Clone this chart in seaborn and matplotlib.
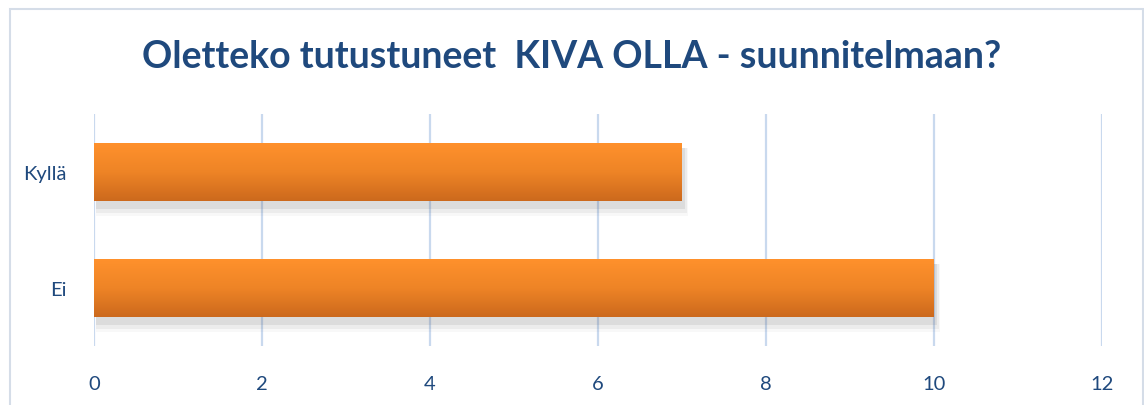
import numpy as np
import pandas as pd
import matplotlib
matplotlib.use("Agg")
import matplotlib.pyplot as plt
from matplotlib.patches import Rectangle
from matplotlib.colors import LinearSegmentedColormap
import seaborn as sns

# data
categories = ["Kyllä", "Ei"]
values = [7, 10]
x_ticks = [0, 2, 4, 6, 8, 10, 12]

df = pd.DataFrame({"vastaus": categories, "lkm": values})

sns.set_style("white")
plt.rcParams["font.family"] = ["Lato", "DejaVu Sans"]

text_col = "#1F497D"
grid_col = "#C9D9EE"

fig = plt.figure(figsize=(11.44, 4.06), dpi=100)
ax = fig.add_axes([94 / 1144, 1 - 347 / 406, 1008 / 1144, 232 / 406])

sns.barplot(data=df, x="lkm", y="vastaus", orient="h", color="#F08423",
            width=0.5, linewidth=0, ax=ax, zorder=3)

ax.set_xlim(0, 12)
ax.set_ylim(1.5, -0.5)
ax.set_xticks(x_ticks)
ax.set_xlabel("")
ax.set_ylabel("")
for s in ax.spines.values():
    s.set_visible(False)
ax.grid(axis="x", color=grid_col, linewidth=1.6, zorder=0)
ax.tick_params(axis="both", length=0, colors=text_col, labelsize=14.5)
ax.tick_params(axis="x", pad=21)
ax.tick_params(axis="y", pad=20)
for lab in ax.get_xticklabels() + ax.get_yticklabels():
    lab.set_color(text_col)

# gradient fill + soft shadow on the bars
cmap = LinearSegmentedColormap.from_list("org", ["#FF912C", "#EE8426", "#CC691D"])
grad = np.linspace(0, 1, 256).reshape(-1, 1)
for p in ax.patches:
    x0, y0 = p.get_x(), p.get_y()
    w, h = p.get_width(), p.get_height()
    for i, a in enumerate([0.10, 0.07, 0.04]):
        d = 0.03 * (i + 1)
        ax.add_patch(Rectangle((x0 + 0.02, y0 + 0.04), w + d * 0.6, h + d,
                               facecolor="#555555", alpha=a, lw=0, zorder=2))
    im = ax.imshow(grad, aspect="auto", cmap=cmap,
                   extent=(x0, x0 + w, y0 + h, y0), zorder=4)
    im.set_clip_path(p)

ax.set_xlim(0, 12)
ax.set_ylim(1.5, -0.5)

fig.text(0.5, 1 - 57 / 406, "Oletteko tutustuneet  KIVA OLLA - suunnitelmaan?",
         ha="center", va="center", fontsize=27, fontweight="bold", color=text_col)

fig.patches.append(Rectangle((10 / 1144, -0.05), 1133 / 1144, 1 - 10 / 406 + 0.05,
                             transform=fig.transFigure, fill=False,
                             edgecolor="#D5DDE8", linewidth=1.5))

fig.savefig("out.png", dpi=100)
